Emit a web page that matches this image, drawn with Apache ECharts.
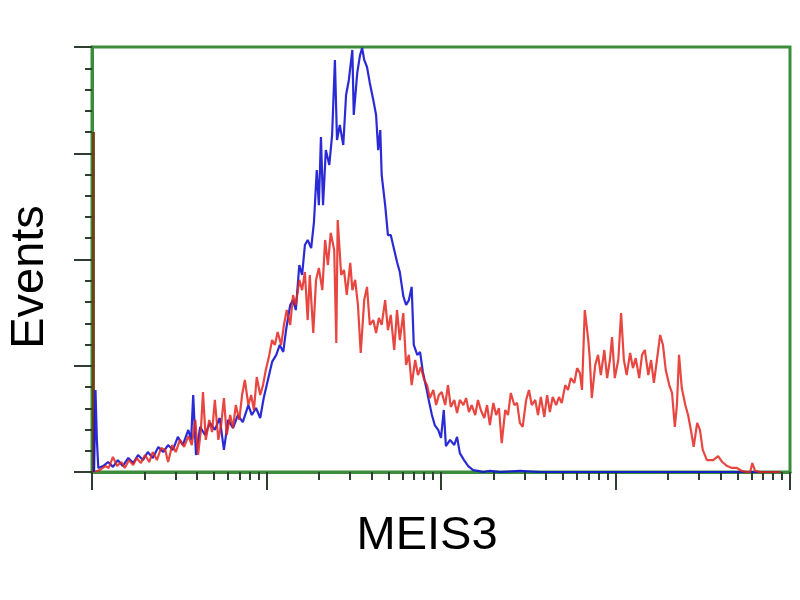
<!DOCTYPE html>
<html>
<head>
<meta charset="utf-8">
<script src="https://cdn.jsdelivr.net/npm/echarts@6/dist/echarts.min.js"></script>
<style>html,body{margin:0;padding:0;background:#fff}#c{width:800px;height:600px}</style>
</head>
<body>
<div id="c"></div>
<script>
// Channel (0..1000, 4 log decades, 250 channels per decade) vs. event count
const controlPoints = [[3,0],[5,38.6],[7,15.1],[9,1.9],[16,2.8],[23,4.7],[30,2.4],[37,5.6],[44,2.8],[52,6.6],[59,4.2],[66,8],[73,5.6],[80,9.4],[87,6.6],[95,11.8],[102,9.4],[109,12.7],[116,10.4],[123,16.5],[130,12.7],[138,19.8],[142,15.1],[145,36.2],[149,8],[155,21.2],[162,17.4],[169,23.1],[176,19.8],[183,25.4],[189,10.4],[195,24.5],[202,20.7],[209,26.8],[216,23.5],[224,31.5],[229,26.8],[235,30.1],[241,25.4],[246,34.8],[252,43.3],[258,51.8],[264,55.1],[269,59.8],[274,56.5],[278,66.8],[284,78.6],[288,80.9],[292,76.2],[297,97.4],[301,92.7],[305,106.8],[309,109.2],[314,105.4],[318,117.6],[322,142.1],[325,125.6],[328,157.6],[331,125.6],[335,151.5],[340,144.5],[344,158.6],[348,193.9],[351,156.2],[355,163.3],[360,153.9],[364,177.4],[368,184.5],[373,198.6],[375,168],[380,187.8],[384,196.2],[387,199.5],[390,193.9],[394,190.6],[398,183.1],[403,175.1],[407,168],[410,151.5],[413,160.9],[415,139.8],[420,125.6],[424,111.5],[428,111.5],[433,104.5],[437,98.8],[441,94.1],[446,82.8],[450,78.6],[454,80.9],[458,87.1],[461,59.8],[466,55.1],[470,56.5],[474,47.1],[479,39.5],[483,32.9],[487,26.8],[491,22.1],[496,19.8],[500,16],[504,29.2],[507,12.2],[513,15.1],[519,12.7],[523,16.5],[527,8.9],[533,5.6],[539,2.8],[546,0.9],[553,0.5],[560,0],[570,0.5],[585,0],[613,0.5],[642,0],[986,0]];

const meis3Points = [[4,0],[11,0.9],[19,2.8],[24,1.9],[30,7.1],[36,2.8],[42,4.7],[47,1.9],[53,5.6],[59,3.3],[64,6.6],[70,4.2],[76,8],[82,4.7],[87,9.4],[93,5.6],[99,11.3],[105,10.4],[109,4.7],[115,12.7],[120,9.4],[126,15.1],[132,11.8],[138,16.9],[143,12.7],[148,24.5],[152,8],[156,19.8],[159,37.6],[163,15.1],[168,24.5],[172,18.8],[176,33.9],[181,15.1],[185,22.1],[189,34.8],[193,17.4],[198,26.8],[202,20.7],[206,31.5],[211,24.5],[215,36.2],[219,43.3],[224,31.5],[228,36.2],[232,29.2],[236,44.7],[241,36.2],[245,40.9],[249,48],[254,55.1],[258,62.1],[262,59.8],[266,65.9],[271,59.8],[275,69.2],[279,76.2],[284,69.2],[288,83.3],[292,78.6],[297,90.4],[301,85.6],[305,94.1],[309,71.5],[312,92.7],[317,65.4],[321,90.4],[325,96],[330,85.6],[334,109.2],[338,97.4],[342,112.5],[347,104.5],[350,60.7],[352,118.6],[357,92.7],[361,95.1],[365,83.3],[370,98.4],[373,85.6],[377,90.4],[381,78.6],[385,56],[390,80.9],[394,87.1],[398,69.2],[403,71.5],[407,65.4],[411,72.5],[415,69.2],[420,80.9],[424,66.8],[428,73.9],[433,57.4],[437,76.2],[441,62.1],[446,74.8],[450,50.4],[454,55.1],[458,40.9],[463,52.7],[467,45.6],[471,49.4],[476,43.3],[480,40.9],[484,34.8],[489,38.6],[493,31.5],[497,36.2],[501,37.6],[506,31.5],[510,40.9],[514,30.6],[519,33.9],[523,27.8],[527,33.9],[532,31.5],[536,34.8],[540,28.2],[544,31.5],[549,26.8],[553,33.9],[557,29.2],[562,25.4],[566,31.5],[570,22.1],[575,32.5],[579,26.8],[583,30.1],[587,13.6],[592,29.2],[596,26.8],[600,37.2],[605,31.5],[609,32.5],[613,23.1],[617,21.2],[622,33.9],[626,38.6],[630,31.5],[635,33.9],[639,26.8],[643,35.3],[648,25.9],[652,36.2],[656,28.2],[660,35.3],[665,31.5],[669,35.3],[673,32.5],[678,40.9],[682,38.6],[686,44.2],[691,41.9],[695,48.9],[699,46.6],[702,38.6],[706,76.2],[711,62.1],[713,54.1],[716,34.8],[721,50.4],[725,55.1],[729,45.6],[734,57.4],[738,44.2],[742,52.7],[745,63.5],[749,44.2],[754,52.7],[758,74.8],[762,52.7],[766,45.6],[771,56],[775,48.9],[779,53.6],[784,44.2],[788,55.1],[792,57.4],[797,45.6],[801,52.7],[805,41.9],[809,51.8],[814,64.5],[818,59.8],[822,48],[827,40.9],[831,37.2],[835,21.2],[838,31.5],[841,55.1],[845,39.5],[850,31.5],[854,26.8],[858,19.8],[862,11.8],[867,23.1],[871,19.8],[875,10.4],[881,5.6],[890,5.6],[897,7.5],[903,4.7],[910,2.8],[917,1.9],[924,1.9],[931,0.5],[938,0],[943,0],[946,4.2],[950,0.5],[957,0],[986,0]];

const offScalePoints = [[2,0],[2,160]];

const decades = [0, 1, 2, 3, 4];
const minorMultipliers = [2, 3, 4, 5, 6, 7, 8, 9];
const channelsPerDecade = 250;
const countMax = 200, countInterval = 50;

const majorTicks = decades.map(d => d * channelsPerDecade);
const minorTicks = [];
decades.slice(0, 4).forEach(d => minorMultipliers.forEach(m => minorTicks.push((d + Math.log10(m)) * channelsPerDecade)));

const green = '#3b8d3b';
const tickColor = '#2f3f2f';

const chart = echarts.init(document.getElementById('c'), null, {renderer: 'canvas'});
chart.setOption({
  animation: false,
  backgroundColor: '#fff',
  grid: {left: 92, top: 47, right: 10, bottom: 128, show: true, borderColor: green, borderWidth: 3, backgroundColor: 'transparent'},
  xAxis: [
    {type: 'value', min: 0, max: 1000, position: 'bottom',
     axisLine: {show: true, lineStyle: {color: green, width: 3}},
     axisTick: {show: true, customValues: majorTicks, length: 18, lineStyle: {color: tickColor, width: 2}},
     axisLabel: {show: false}, splitLine: {show: false}},
    {type: 'value', min: 0, max: 1000, position: 'bottom',
     axisLine: {show: false},
     axisTick: {show: true, customValues: minorTicks, length: 8, lineStyle: {color: tickColor, width: 2}},
     axisLabel: {show: false}, splitLine: {show: false}}
  ],
  yAxis: {type: 'value', min: 0, max: countMax, interval: countInterval,
    axisLine: {show: true, lineStyle: {color: green, width: 3}},
    axisTick: {show: true, length: 18, lineStyle: {color: tickColor, width: 2}},
    minorTick: {show: true, splitNumber: 5, length: 7, lineStyle: {color: tickColor, width: 2}},
    axisLabel: {show: false}, splitLine: {show: false}},
  series: [
    {type: 'line', name: 'Off-scale', data: offScalePoints, showSymbol: false, xAxisIndex: 0,
     lineStyle: {color: '#6a4214', width: 3}, z: 2},
    {type: 'line', name: 'Control', data: controlPoints, showSymbol: false, xAxisIndex: 0,
     lineStyle: {color: '#1414d0', width: 2.2, opacity: 0.9}, z: 3},
    {type: 'line', name: 'MEIS3', data: meis3Points, showSymbol: false, xAxisIndex: 0,
     lineStyle: {color: '#e4261f', width: 2.2, opacity: 0.85}, z: 4}
  ],
  graphic: [
    {type: 'text', x: 427, y: 536, style: {text: 'MEIS3', fontSize: 47, fontFamily: 'Liberation Sans, Arial, sans-serif', fill: '#000', align: 'center', verticalAlign: 'middle'}},
    {type: 'text', x: 30, y: 277, rotation: Math.PI / 2, style: {text: 'Events', fontSize: 47, fontFamily: 'Liberation Sans, Arial, sans-serif', fill: '#000', align: 'center', verticalAlign: 'middle'}}
  ]
});
</script>
</body>
</html>
